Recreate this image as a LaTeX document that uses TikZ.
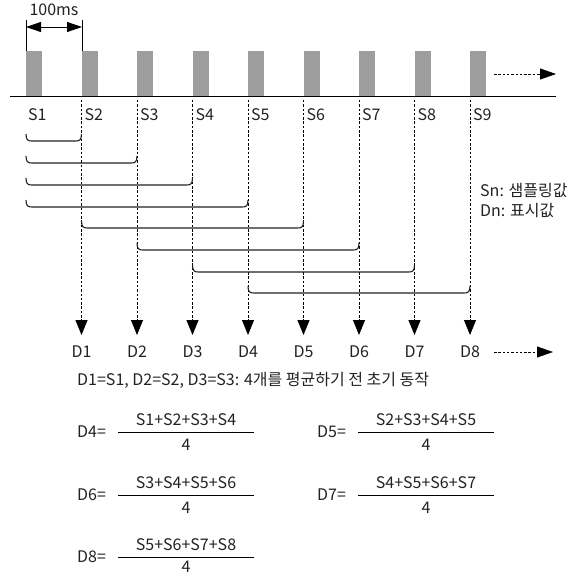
\documentclass[tikz,border=0pt]{standalone}
\usepackage{fontspec}
\setmainfont{Noto Sans CJK KR}
\usetikzlibrary{arrows.meta}
\definecolor{barc}{HTML}{9E9E9E}
\definecolor{ink}{HTML}{222222}
\tikzset{
  bar/.style={fill=barc, draw=none, minimum width=16pt, minimum height=46pt, inner sep=0pt, outer sep=0pt},
  txt/.style={inner sep=0pt, text=ink},
  dots/.style={line width=0.9pt, dash pattern=on 2.5pt off 1.8pt},
  brk/.style={line width=1.1pt, draw=ink},
  tip/.style={-{Triangle[width=12pt,length=15pt]}},
  fracbar/.style={line width=1pt}
}
\begin{document}
\begin{tikzpicture}[x=1pt,y=-1pt,font=\fontsize{16}{18}\selectfont]
\useasboundingbox (0,0) rectangle (572,575);
% bars
\foreach \i in {0,...,8}{
  \node[bar] (b\i) at ({34+55.5*\i},74) {};
}
% axis
\coordinate (axl) at (10,97);
\coordinate (axr) at (556,97);
\draw[line width=1pt] (axl) -- (axr);
% top dotted arrow
\coordinate (ta1) at (494,74);
\coordinate (ta2) at (556,74);
\draw[dots, -{Triangle[width=11pt,length=16pt]}] (ta1) -- (ta2);
% 100ms dimension
\coordinate (d1t) at (26,20); \coordinate (d1b) at (26,51);
\coordinate (d2t) at (82,20); \coordinate (d2b) at (82,51);
\draw[line width=0.8pt] (d1t) -- (d1b);
\draw[line width=0.8pt] (d2t) -- (d2b);
\coordinate (dm1) at (26,27); \coordinate (dm2) at (82,27);
\draw[line width=0.8pt, {Triangle[width=10pt,length=15pt]}-{Triangle[width=10pt,length=15pt]}] (dm1) -- (dm2);
\node[txt] (ms) at (54,10) {100ms};
% S labels
\node[txt, anchor=west] (s1) at (28,115) {S1};
\foreach \i [evaluate=\i as \n using int(\i+1)] in {1,...,8}{
  \node[txt, anchor=west] (s\n) at ({26+55.5*\i+3},115) {S\n};
}
% dotted verticals with arrows and D labels
\foreach \i in {1,...,8}{
  \coordinate (vt\i) at ({26+55.5*\i},100);
  \coordinate (vb\i) at ({26+55.5*\i},335);
  \draw[dots, tip] (vt\i) -- (vb\i);
  \node[txt] (dd\i) at ({26+55.5*\i},352) {D\i};
}
% D8 dotted arrow
\coordinate (da1) at (494,352);
\coordinate (da2) at (553,352);
\draw[dots, -{Triangle[width=11pt,length=16pt]}] (da1) -- (da2);
% brackets
\foreach \a/\b/\y in {0/1/141, 0/2/163, 0/3/185, 0/4/207, 1/5/228, 2/6/250, 3/7/272, 4/8/293}{
  \coordinate (bl) at ({26+55.5*\a},\y-7);
  \coordinate (br) at ({26+55.5*\b},\y-7);
  \draw[brk] (bl) .. controls +(0,6) and +(-4,0) .. ++(6,7) -- ({26+55.5*\b-6},\y) .. controls +(4,0) and +(0,6) .. (br);
}
% legend
\node[txt, anchor=west] (lgs) at (480,190) {Sn: 샘플링값};
\node[txt, anchor=west] (lgd) at (480,211) {Dn: 표시값};
% note
\node[txt, anchor=west] (note) at (77,380) {D1=S1, D2=S2, D3=S3: 4개를 평균하기 전 초기 동작};
% formulas
\foreach \lab/\num/\x/\y/\dy in {D4/S1+S2+S3+S4/77/432/13, D5/S2+S3+S4+S5/317/432/13, D6/S3+S4+S5+S6/77/495/13, D7/S4+S5+S6+S7/317/495/13, D8/S5+S6+S7+S8/77/557/10}{
  \node[txt, anchor=west] (f\lab) at (\x,\y) {\lab=};
  \coordinate (fa\lab) at (\x+41,\y);
  \coordinate (fb\lab) at (\x+177,\y);
  \draw[fracbar] (fa\lab) -- (fb\lab);
  \node[txt] (n\lab) at (\x+109,\y-12) {\num};
  \node[txt] (m\lab) at (\x+109,\y+\dy) {4};
}
\end{tikzpicture}
\end{document}
